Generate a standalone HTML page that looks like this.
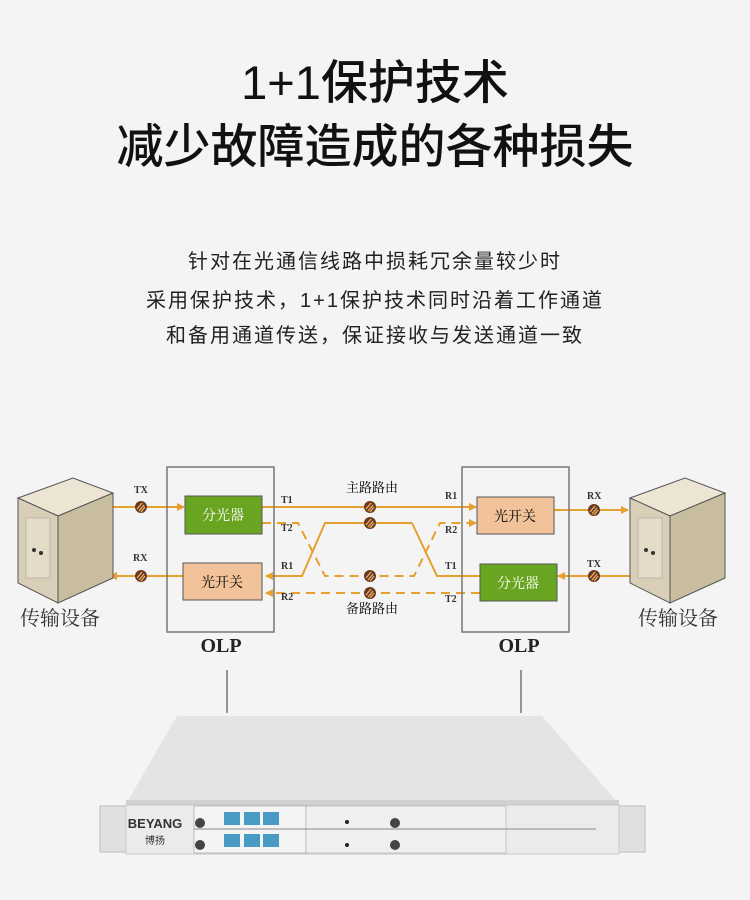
<!DOCTYPE html>
<html><head><meta charset="utf-8"><style>
html,body{margin:0;padding:0;background:#f4f4f4;}
body{width:750px;height:900px;position:relative;overflow:hidden;font-family:"Liberation Sans","Noto Sans CJK SC",sans-serif;color:#222;}
.t{position:absolute;left:0;width:750px;text-align:center;}
.b{font-size:20px;letter-spacing:2px;color:#222;}
</style></head><body>
<div class="t" style="top:44px;font-size:47px;font-weight:500;color:#111;">1+1保护技术</div>
<div class="t" style="top:108px;font-size:47px;font-weight:500;color:#111;">减少故障造成的各种损失</div>
<div class="t b" style="top:245px;">针对在光通信线路中损耗冗余量较少时</div>
<div class="t b" style="top:284px;">采用保护技术，1+1保护技术同时沿着工作通道</div>
<div class="t b" style="top:319px;">和备用通道传送，保证接收与发送通道一致</div>
<svg width="750" height="900" style="position:absolute;left:0;top:0" xmlns="http://www.w3.org/2000/svg">
<defs>
<marker id="a" markerWidth="8" markerHeight="8" refX="7" refY="4" orient="auto" markerUnits="userSpaceOnUse"><path d="M0,0 L8,4 L0,8 Z" fill="#e6a030"/></marker>
<g id="ic"><circle r="6" fill="#6b3a1c"/><path d="M-4,2 L1,-4 M-2,4 L3,-2 M0,5 L4,0" stroke="#e8b070" stroke-width="1.3"/></g>
<g id="srv">
<polygon points="0,20 55,0 95,15 40,38" fill="#ece5d4" stroke="#555"/>
<polygon points="0,20 40,38 40,125 0,105" fill="#d9cfb8" stroke="#555"/>
<polygon points="40,38 95,15 95,100 40,125" fill="#c9bd9f" stroke="#555"/>
<rect x="8" y="40" width="24" height="60" fill="#e4dcc8" stroke="#999" stroke-width=".5"/>
<circle cx="16" cy="72" r="2" fill="#333"/><circle cx="23" cy="75" r="2" fill="#333"/>
</g>
</defs>
<g fill="none" stroke="#e6a030" stroke-width="2">
<line x1="100" y1="507" x2="184" y2="507" marker-end="url(#a)"/>
<line x1="184" y1="576" x2="110" y2="576" marker-end="url(#a)"/>
<line x1="262" y1="507" x2="476" y2="507" marker-end="url(#a)"/>
<polyline points="412,523 325,523 302,576 266,576" marker-end="url(#a)"/>
<polyline points="412,523 437,576 480,576"/>
<polyline points="262,523 298,523 325,576 414,576 440,523 476,523" stroke-dasharray="9,6" marker-end="url(#a)"/>
<line x1="480" y1="593" x2="266" y2="593" stroke-dasharray="9,6" marker-end="url(#a)"/>
<line x1="554" y1="510" x2="628" y2="510" marker-end="url(#a)"/>
<line x1="632" y1="576" x2="558" y2="576" marker-end="url(#a)"/>
</g>
<rect x="167" y="467" width="107" height="165" fill="none" stroke="#777" stroke-width="1.5"/>
<rect x="462" y="467" width="107" height="165" fill="none" stroke="#777" stroke-width="1.5"/>
<rect x="185" y="496" width="77" height="38" fill="#6aa521" stroke="#555"/>
<rect x="183" y="563" width="79" height="37" fill="#f2c39a" stroke="#555"/>
<rect x="477" y="497" width="77" height="37" fill="#f2c39a" stroke="#555"/>
<rect x="480" y="564" width="77" height="37" fill="#6aa521" stroke="#555"/>
<g font-family="Liberation Serif,Noto Serif CJK SC,serif" font-size="14" text-anchor="middle">
<text x="223" y="520" fill="#fff">分光器</text>
<text x="222" y="587">光开关</text>
<text x="515" y="521">光开关</text>
<text x="518" y="588" fill="#fff">分光器</text>
<text x="372" y="492" font-size="13">主路路由</text>
<text x="372" y="613" font-size="13">备路路由</text>
</g>
<g font-family="Liberation Serif,serif" font-size="10" font-weight="bold" fill="#333">
<text x="134" y="493">TX</text><text x="133" y="561">RX</text>
<text x="281" y="503">T1</text><text x="281" y="531">T2</text>
<text x="281" y="569">R1</text><text x="281" y="600">R2</text>
<text x="445" y="499">R1</text><text x="445" y="533">R2</text>
<text x="445" y="569">T1</text><text x="445" y="602">T2</text>
<text x="587" y="499">RX</text><text x="587" y="567">TX</text>
</g>
<g font-family="Liberation Serif,serif" font-size="20" font-weight="bold" text-anchor="middle" fill="#222">
<text x="221" y="652">OLP</text><text x="519" y="652">OLP</text>
</g>
<g font-family="Liberation Serif,Noto Serif CJK SC,serif" font-size="20" text-anchor="middle" fill="#333">
<text x="60" y="625">传输设备</text><text x="678" y="625">传输设备</text>
</g>
<use href="#ic" x="141" y="507"/><use href="#ic" x="141" y="576"/>
<use href="#ic" x="370" y="507"/><use href="#ic" x="370" y="523"/>
<use href="#ic" x="370" y="576"/><use href="#ic" x="370" y="593"/>
<use href="#ic" x="594" y="510"/><use href="#ic" x="594" y="576"/>
<use href="#srv" x="18" y="478"/>
<use href="#srv" x="630" y="478"/>
<line x1="227" y1="670" x2="227" y2="713" stroke="#333"/>
<line x1="521" y1="670" x2="521" y2="713" stroke="#333"/>
<polygon points="177,716 542,716 619,804 126,804" fill="#e3e4e6"/>
<rect x="126" y="800" width="493" height="5" fill="#d0d1d3"/>
<rect x="100" y="806" width="26" height="46" fill="#e0e0e0" stroke="#bbb"/>
<rect x="619" y="806" width="26" height="46" fill="#e0e0e0" stroke="#bbb"/>
<rect x="126" y="805" width="493" height="49" fill="#ebebeb" stroke="#c8c8c8"/>
<rect x="194" y="806" width="112" height="47" fill="#f4f4f4" stroke="#999" stroke-width=".6"/>
<rect x="306" y="806" width="200" height="47" fill="#efefef" stroke="#aaa" stroke-width=".6"/>
<line x1="194" y1="829" x2="596" y2="829" stroke="#888" stroke-width="1"/>
<g fill="#4a9bc4">
<rect x="224" y="812" width="16" height="13"/><rect x="244" y="812" width="16" height="13"/><rect x="263" y="812" width="16" height="13"/>
<rect x="224" y="834" width="16" height="13"/><rect x="244" y="834" width="16" height="13"/><rect x="263" y="834" width="16" height="13"/>
</g>
<circle cx="347" cy="822" r="2" fill="#222"/><circle cx="347" cy="845" r="2" fill="#222"/>
<circle cx="395" cy="823" r="5" fill="#444"/><circle cx="395" cy="845" r="5" fill="#444"/>
<circle cx="200" cy="823" r="5" fill="#444"/><circle cx="200" cy="845" r="5" fill="#444"/>
<text x="155" y="828" font-family="Liberation Sans,sans-serif" font-size="13" font-weight="bold" text-anchor="middle" fill="#333">BEYANG</text>
<text x="155" y="844" font-family="Liberation Sans,Noto Sans CJK SC,sans-serif" font-size="10" text-anchor="middle" fill="#333">博扬</text>
</svg>
</body></html>
